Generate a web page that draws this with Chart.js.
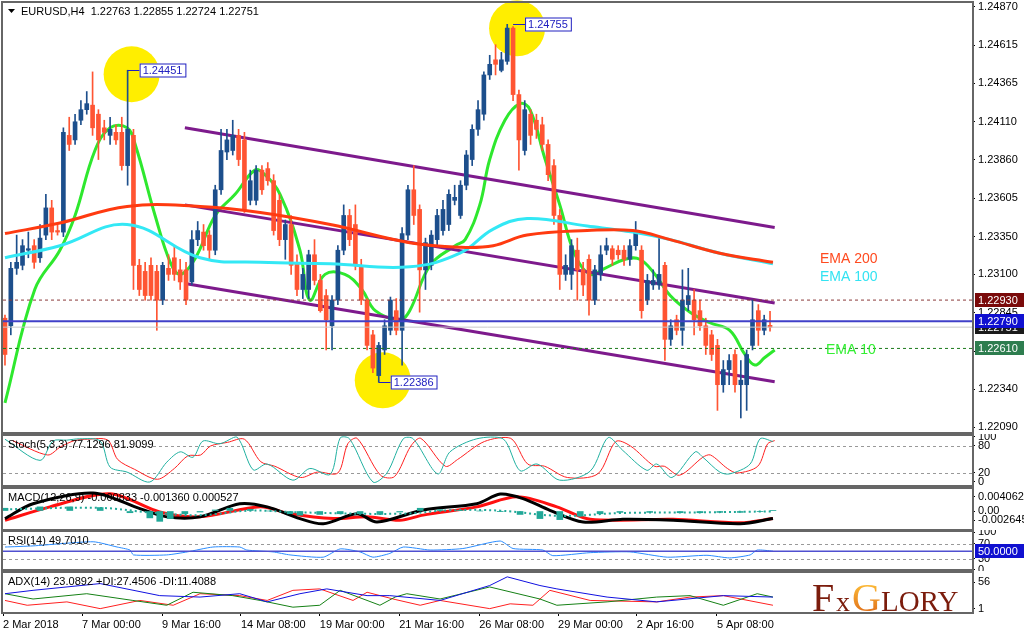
<!DOCTYPE html>
<html>
<head>
<meta charset="utf-8">
<script src="https://cdn.jsdelivr.net/npm/chart.js@4.4.1/dist/chart.umd.min.js"></script>
<style>
  body { margin:0; background:#fff; width:1024px; height:636px; overflow:hidden; position:relative; }
  .pane { position:absolute; left:0; width:1024px; }
</style>
</head>
<body>
<div class="pane" style="top:0;height:434px"><canvas id="main"></canvas></div>
<div class="pane" style="top:434px;height:53px"><canvas id="stoch"></canvas></div>
<div class="pane" style="top:487px;height:43px"><canvas id="macd"></canvas></div>
<div class="pane" style="top:530px;height:41px"><canvas id="rsi"></canvas></div>
<div class="pane" style="top:571px;height:65px"><canvas id="adx"></canvas></div>
<script>
// EURUSD H4 candles
var opens = [1.2281,1.2276,1.2314,1.2316,1.2326,1.2329,1.2321,1.2336,1.2354,1.2339,
  1.2338,1.2402,1.2399,1.2412,1.2419,1.2422,1.2416,1.2407,1.2402,1.2404,
  1.2404,1.2382,1.2402,1.2316,1.2312,1.2316,1.2312,1.2293,1.2314,1.2321,
  1.2313,1.2313,1.2305,1.2333,1.2338,1.2336,1.2326,1.2366,1.2391,1.2392,
  1.2402,1.2399,1.2359,1.2359,1.2379,1.2380,1.2372,1.2359,1.2333,1.2343,
  1.2318,1.2300,1.2300,1.2323,1.2306,1.2296,1.2276,1.2293,1.2326,1.2349,
  1.2343,1.2316,1.2293,1.2270,1.2243,1.2260,1.2273,1.2286,1.2273,1.2336,
  1.2366,1.2353,1.2313,1.2316,1.2333,1.2339,1.2343,1.2359,1.2349,1.2369,
  1.2386,1.2406,1.2416,1.2442,1.2452,1.2445,1.2451,1.2473,1.2429,1.2392,
  1.2416,1.2412,1.2409,1.2396,1.2382,1.2349,1.2310,1.2310,1.2326,1.2313,
  1.2320,1.2293,1.2310,1.2326,1.2327,1.2326,1.2326,1.2320,1.2329,1.2326,
  1.2293,1.2303,1.2303,1.2316,1.2267,1.2280,1.2273,1.2290,1.2293,1.2286,
  1.2276,1.2270,1.2263,1.2237,1.2247,1.2257,1.2237,1.2237,1.2263,1.2286,
  1.2273,1.22763];
var closes = [1.2257,1.2314,1.2318,1.2329,1.2327,1.2318,1.2334,1.2354,1.2338,1.2338,
  1.2404,1.2396,1.2411,1.2419,1.2423,1.2407,1.2399,1.2404,1.2406,1.2399,
  1.2382,1.2406,1.2316,1.2300,1.2296,1.2296,1.2293,1.2316,1.2310,1.2310,
  1.2305,1.2293,1.2333,1.2339,1.2329,1.2326,1.2366,1.2392,1.2399,1.2402,
  1.2386,1.2353,1.2372,1.2379,1.2366,1.2372,1.2339,1.2333,1.2343,1.2316,
  1.2300,1.2310,1.2323,1.2306,1.2286,1.2280,1.2293,1.2326,1.2349,1.2333,
  1.2316,1.2293,1.2263,1.2248,1.2263,1.2276,1.2293,1.2273,1.2337,1.2366,
  1.2349,1.2313,1.2331,1.2336,1.2349,1.2353,1.2363,1.2361,1.2369,1.2389,
  1.2406,1.2419,1.2442,1.2449,1.2449,1.2452,1.2473,1.2429,1.2399,1.2419,
  1.2402,1.2406,1.2396,1.2376,1.2349,1.2310,1.2316,1.2329,1.2313,1.2303,
  1.2293,1.2313,1.2323,1.2329,1.2320,1.2323,1.2320,1.2329,1.2339,1.2286,
  1.2306,1.2306,1.2310,1.2267,1.2276,1.2273,1.2293,1.2296,1.2280,1.2276,
  1.2263,1.2257,1.2237,1.2247,1.2253,1.2237,1.2240,1.2257,1.2280,1.2273,
  1.2280,1.22751];
var highs = [1.2283,1.2318,1.2336,1.2333,1.2338,1.2333,1.2343,1.2363,1.2359,1.2343,
  1.2407,1.2414,1.2416,1.2425,1.2431,1.2444,1.2419,1.2412,1.2414,1.2409,
  1.2414,1.24451,1.2406,1.2320,1.2318,1.2321,1.2316,1.2318,1.2323,1.2329,
  1.2320,1.2318,1.2339,1.2345,1.2343,1.2339,1.2369,1.2406,1.2406,1.2412,
  1.2406,1.2404,1.2379,1.2382,1.2382,1.2384,1.2376,1.2363,1.2346,1.2349,
  1.2323,1.2314,1.2326,1.2333,1.2310,1.2300,1.2296,1.2329,1.2356,1.2353,
  1.2356,1.2320,1.2294,1.2273,1.2265,1.2280,1.2295,1.2294,1.2341,1.2369,
  1.2382,1.2356,1.2334,1.2339,1.2353,1.2359,1.2366,1.2369,1.2372,1.2392,
  1.2409,1.2425,1.2444,1.2455,1.2462,1.2457,1.24755,1.2474,1.2432,1.2425,
  1.2419,1.2416,1.2414,1.2399,1.2386,1.2353,1.2323,1.2333,1.2334,1.2318,
  1.2323,1.2316,1.2329,1.2334,1.2329,1.2329,1.2329,1.2333,1.2345,1.2329,
  1.2310,1.2313,1.2334,1.2318,1.2280,1.2283,1.2313,1.2314,1.2300,1.2293,
  1.2281,1.2273,1.2267,1.2253,1.2257,1.2260,1.2253,1.2260,1.2293,1.2290,
  1.2283,1.22855];
var lows = [1.2250,1.2270,1.2310,1.2313,1.2321,1.2314,1.2318,1.2333,1.2333,1.2336,
  1.2335,1.2392,1.2396,1.2409,1.2416,1.2402,1.2386,1.2399,1.2396,1.2396,
  1.2379,1.2369,1.2300,1.2296,1.2293,1.2293,1.2273,1.2290,1.2306,1.2306,
  1.2300,1.2290,1.2303,1.2329,1.2326,1.2320,1.2323,1.2363,1.2386,1.2389,
  1.2382,1.2351,1.2356,1.2356,1.2363,1.2369,1.2336,1.2329,1.2320,1.2310,
  1.2296,1.2294,1.2294,1.2303,1.2285,1.2260,1.2260,1.2290,1.2323,1.2329,
  1.2313,1.2290,1.2260,1.2245,1.22386,1.2257,1.2270,1.2270,1.2250,1.2333,
  1.2343,1.2285,1.2300,1.2313,1.2329,1.2336,1.2339,1.2356,1.2347,1.2366,
  1.2382,1.2402,1.2412,1.2439,1.2442,1.2444,1.2449,1.2425,1.2379,1.2389,
  1.2396,1.2400,1.2392,1.2372,1.2343,1.2300,1.2306,1.2300,1.2293,1.2296,
  1.2283,1.2290,1.2306,1.2323,1.2316,1.2320,1.2316,1.2316,1.2326,1.2281,
  1.2290,1.2300,1.2300,1.2253,1.2263,1.2270,1.2263,1.2286,1.2270,1.2273,
  1.2257,1.2253,1.2220,1.2232,1.2237,1.2232,1.2215,1.2220,1.2260,1.2263,
  1.2270,1.22724];

// moving averages, read at bar positions
var ema10X = [0,5.1,9.4,12,15.4,18,20.9,22.3,25.7,28.3,30,32.5,36,39.4,42.8,44.5,47.1,50.5,52.2,54.8,58.2,61.1,63.4,67.6,69.3,72.8,77.1,78.8,81.3,83,85.6,88.2,89.9,92.5,95,97.6,100.2,102.7,106.2,108.7,111.3,113.9,117.3,120.7,124.1,126.7,128.4,130.1,131.8];
var ema10 = [1.2225,1.2300,1.2326,1.2349,1.2392,1.2407,1.2407,1.2396,1.2349,1.2318,1.2310,1.2320,1.2349,1.2363,1.2379,1.2376,1.2363,1.2326,1.2293,1.2310,1.2310,1.2300,1.2286,1.2280,1.2286,1.2316,1.2329,1.2333,1.2356,1.2386,1.2412,1.2423,1.2419,1.2386,1.2356,1.2323,1.2310,1.2314,1.2320,1.2320,1.2310,1.2296,1.2285,1.2278,1.2273,1.2257,1.2250,1.2255,1.2260];
var emaLongX = [0,9.4,20.9,33.4,43.7,55.7,69.3,77.9,83.6,89.4,99.7,107.5,113.9,122.4,131.5];
var ema100 = [1.2321,1.2329,1.2343,1.2321,1.2318,1.2317,1.2315,1.2324,1.2340,1.2347,1.2342,1.2338,1.2333,1.2324,1.2317];
var ema200 = [1.2337,1.2344,1.2355,1.2355,1.2351,1.2343,1.2331,1.2328,1.2329,1.2336,1.2339,1.2339,1.2333,1.2324,1.2318];

// regression channel
var chanX = [30.8,131.8];
var chanUp = [1.2407,1.2341];
var chanMid = [1.2356,1.2291];
var chanLow = [1.2304,1.2239];

var priceTicks = [1.24870,1.24615,1.24365,1.24110,1.23860,1.23605,1.23350,1.23100,1.22845,1.22590,1.22340,1.22090];
var levels = { resist:1.22930, line:1.22790, bid:1.22751, support:1.22610 };

// indicators
var stochKX = [0,6,8.2,10.6,12.8,16.3,18,20.9,24.8,27.7,30,32.2,33.9,36.8,39.7,42.5,44.9,49.3,52.2,55.7,57.4,59,63,65.4,68.2,69.9,74.1,76.2,80.8,85.3,88.2,91.1,95,100.2,103.3,105.8,109.9,111.6,114.2,118.2,119.5,122.4,124.1,127.6,129.3,131.5];
var stochK = [95,48,91,93,96,91,33,22,0,44,67,55,91,85,100,27,40,4,30,17,98,96,0,20,96,96,18,67,96,96,25,40,4,24,99,70,26,40,10,67,55,22,18,40,96,90];
var stochDX = [1.3,7.3,9.5,11.9,14.1,17.6,19.3,22.2,26.1,29,31.3,33.5,35.2,38.1,41,43.8,46.2,50.6,53.5,57,58.7,60.3,64.3,66.7,69.5,71.2,75.4,77.5,82.1,86.6,89.5,92.4,96.3,101.5,104.6,107.1,111.2,112.9,115.5,119.5,120.8,123.7,125.4,128.9,130.6,131.8];
var stochD = [92,60,78,92,95,93,50,28,6,30,58,60,80,88,95,45,35,10,22,20,85,97,15,12,80,97,35,50,90,97,40,35,10,18,90,80,35,35,15,55,60,30,20,35,85,92];

var histX = [0,6,11.1,16.3,21.4,24.8,26.5,28.3,30.8,33.4,36,38.5,42,45.4,48.8,50.5,53.9,57.4,60.8,64.2,67.6,71.1,74.5,77.9,81.3,84.8,88.2,91.6,95,98.5,101.9,105.3,110.4,115.6,119,122.4,125.9,129.3,131.5];
var histVal = [0.0008,0.0012,0.0012,0.0010,-0.0005,-0.0020,-0.0030,-0.0022,-0.0008,-0.0003,0.0003,0.0008,0.0005,0,-0.0008,-0.0012,-0.0010,-0.0008,-0.0008,-0.0010,-0.0003,0.0008,0.0004,0.0002,0,-0.0002,-0.0010,-0.0022,-0.0025,-0.0015,-0.0008,-0.0004,-0.0004,-0.0005,-0.0005,-0.0004,-0.0004,-0.0001,0.0001];
var sigX = [0,16.3,24.8,33.4,42,50.5,67.6,76.2,84.8,95,105.3,119,131.5];
var sigVal = [0.0005,0.0009,-0.0004,-0.0012,0.0001,-0.0004,-0.0008,0.0002,0.0001,-0.0014,-0.0006,-0.0004,-0.0001];
var macdBlackX = [0,4.8,15.1,23.1,27.7,33.4,40.2,44.9,50.5,54.5,60.3,63.7,71.6,80.8,84.8,88.7,93.3,99,105.8,114.4,125.9,131.5];
var macdBlack = [-0.0022,0.0021,0.0052,0.0007,-0.0017,-0.0017,0.0021,0.0012,-0.0022,-0.0037,-0.0008,-0.0032,0.0003,0.0021,0.0049,0.0036,0.0002,-0.0032,-0.0024,-0.0027,-0.0037,-0.0022];
var macdRedX = [0,7.7,18,26.5,33.4,43.7,48.8,56.2,62,67.6,71.6,80.8,87.7,94.5,100.2,114.4,125.9,131.5];
var macdRed = [-0.0027,0.0012,0.0050,-0.0003,-0.0017,0.0012,-0.0008,-0.0022,-0.0017,-0.0027,-0.0012,0.0012,0.0041,0.0012,-0.0024,-0.0024,-0.0034,-0.0022];

var rsiX = [0,4.8,15.1,19.2,21.4,22,27.7,31.2,35.6,40.2,41.4,45.9,48.8,54.5,57.4,60.8,63,65.9,68.2,72.8,78.4,84.8,87,92.1,93.8,100.2,107,113.4,120.2,124.1,127.6,128.8,131.5];
var rsi = [61,64,75,61,53,40,40,48,61,61,53,48,40,34,56,48,34,44,61,53,57,77,57,53,38,46,48,34,39,32,40,53,50];

var adxX = [0,4.8,16.3,26.5,33.4,40.2,44.9,50.5,55.1,62,65.9,74.5,83,86,91.6,94.5,103.1,111.6,123,131.5];
var adx = [32,39,53,28,25,32,15,32,42,28,28,18,49,67,49,42,25,15,28,25];
var plusDiX = [0,4.8,14,21.9,27.7,32.2,39,43.7,49.3,53.9,57.4,64.2,66.8,68.8,74.5,83,91.6,94.5,103.1,111.6,117.3,123,128.8,131.5];
var plusDi = [32,21,32,18,8,35,28,18,4,8,39,8,25,32,21,46,21,8,15,25,28,8,32,25];
var minusDiX = [0,3.8,10.6,16.3,23.1,28.8,33.4,40.2,44.9,49.3,53.9,59.6,62,66.8,71.1,74.5,83,86.5,90.4,93.3,100.2,111.6,117.3,123,131.5];
var minusDi = [18,8,15,1,18,8,32,28,18,39,42,18,35,20,8,18,1,11,8,39,18,15,25,28,8];

var timeTickX = [-0.34,13.2,26.9,40.4,53.9,67.5,81.2,94.7,108.2,121.9];
var timeLabels = ['2 Mar 2018','7 Mar 00:00','9 Mar 16:00','14 Mar 08:00','19 Mar 00:00','21 Mar 16:00','26 Mar 08:00','29 Mar 00:00','2 Apr 16:00','5 Apr 08:00'];

var X_MIN = -0.34, X_MAX = X_MIN + 969 / 5.84;
var FONT = '"Liberation Sans", Arial, sans-serif';
Chart.defaults.font.family = FONT;
Chart.defaults.font.size = 11;
Chart.defaults.color = '#000';
Chart.defaults.animation = false;

function pts(xs, ys) { return xs.map(function(x, i){ return {x:x, y:ys[i]}; }); }
function flat(v) { return [{x:X_MIN, y:v}, {x:X_MAX, y:v}]; }
function line(data, color, w, extra) {
  return Object.assign({type:'line', data:data, borderColor:color, borderWidth:w, pointRadius:0, fill:false, tension:0}, extra || {});
}
function xScale(show) {
  var s = {type:'linear', min:X_MIN, max:X_MAX, display:show, offset:false};
  if (!show) return s;
  return Object.assign(s, {
    afterBuildTicks: function(sc){ sc.ticks = timeTickX.map(function(v){ return {value:v}; }); },
    ticks:{autoSkip:false, maxRotation:0, align:'start', padding:2, font:{size:11},
      callback:function(v, i){ return timeLabels[i]; }},
    grid:{drawOnChartArea:false, drawTicks:true, tickLength:4, color:'#000'},
    border:{color:'#555', width:1},
    afterFit: function(sc){ sc.height = 24; }});
}
function yScale(min, max, tickVals, fmt) {
  return {position:'right', min:min, max:max,
    afterBuildTicks: function(s){ s.ticks = tickVals.map(function(v){ return {value:v}; }); },
    afterFit: function(s){ s.width = 52; s.paddingTop = 0; s.paddingBottom = 0; },
    ticks:{autoSkip:false, padding:3, font:{size:11}, callback: fmt},
    grid:{drawOnChartArea:false, drawTicks:true, tickLength:3, color:'#000'},
    border:{color:'#555', width:1}};
}
function frame(label) {
  return {id:'frame', afterDraw:function(c){
    var a = c.chartArea, g = c.ctx;
    g.save();
    g.strokeStyle = '#666'; g.lineWidth = 2;
    g.strokeRect(a.left - 1, a.top - 1, a.right - a.left + 2, a.bottom - a.top + 2);
    if (label) {
      g.fillStyle = '#000'; g.font = '11px ' + FONT; g.textBaseline = 'top';
      g.fillText(label, a.left + 5, a.top + 3);
    }
    g.restore();
  }};
}
function dashedLevels(vals) {
  return {id:'lev', beforeDatasetsDraw:function(c){
    var a = c.chartArea, g = c.ctx, y = c.scales.y;
    g.save(); g.strokeStyle = '#999'; g.setLineDash([3,3]); g.lineWidth = 1;
    vals.forEach(function(v){ var p = Math.round(y.getPixelForValue(v)) + 0.5;
      g.beginPath(); g.moveTo(a.left, p); g.lineTo(a.right, p); g.stroke(); });
    g.restore();
  }};
}
function baseOpts(pad, xs, ys) {
  return {responsive:true, maintainAspectRatio:false,
    layout:{padding:pad},
    plugins:{legend:{display:false}, tooltip:{enabled:false}},
    scales:{x:xs, y:ys}};
}

// ---- main price chart ----
var idx = opens.map(function(_, i){ return i; });
var up = '#1d4f8c', down = '#ff5533';
var candleCol = idx.map(function(i){ return closes[i] >= opens[i] ? up : down; });

var mainDecor = {
  id:'mainDecor',
  beforeDatasetsDraw:function(c){
    var g = c.ctx, x = c.scales.x, y = c.scales.y;
    g.save(); g.fillStyle = '#ffee00';
    [[21, 1.24451], [87, 1.24755], [64, 1.22386]].forEach(function(m, k){
      var cx = x.getPixelForValue(m[0]) + 4, cy = y.getPixelForValue(m[1]) + (k == 2 ? -2 : 4);
      g.beginPath(); g.arc(cx, cy, 28, 0, Math.PI * 2); g.fill();
    });
    g.restore();
  },
  afterDatasetsDraw:function(c){
    var g = c.ctx, x = c.scales.x, y = c.scales.y, a = c.chartArea;
    g.save();
    // swing labels
    [[21, 1.24451], [87, 1.24755], [64, 1.22386]].forEach(function(m){
      var px = x.getPixelForValue(m[0]), py = Math.round(y.getPixelForValue(m[1])) + 0.5;
      var t = m[1].toFixed(5);
      g.font = '11px ' + FONT;
      var w = g.measureText(t).width + 6;
      g.strokeStyle = '#2020c0'; g.lineWidth = 1;
      g.beginPath(); g.moveTo(px, py); g.lineTo(px + 12, py); g.stroke();
      g.fillStyle = '#fff'; g.fillRect(px + 12, py - 7, w, 14);
      g.strokeRect(px + 12.5, py - 6.5, w, 13);
      g.fillStyle = '#2020c0'; g.textBaseline = 'middle'; g.fillText(t, px + 15, py + 0.5);
    });
    // EMA captions
    g.font = '14px ' + FONT; g.textBaseline = 'alphabetic';
    g.fillStyle = '#ff4a1f'; g.fillText('EMA 200', 820, 263);
    g.fillStyle = '#33e3f2'; g.fillText('EMA 100', 820, 281);
    g.fillStyle = '#33ee33'; g.fillText('EMA 10', 826, 354);
    // title
    g.fillStyle = '#000'; g.font = '11px ' + FONT;
    g.beginPath(); g.moveTo(8, 9); g.lineTo(15, 9); g.lineTo(11.5, 13); g.closePath(); g.fill();
    g.fillText('EURUSD,H4  1.22763 1.22855 1.22724 1.22751', 21, 15);
    // price boxes on the axis
    [[levels.bid, '#1a1a1a'], [levels.resist, '#7a0a0a'], [levels.line, '#1010d0'], [levels.support, '#2e7d4f']].forEach(function(b){
      var py = Math.round(y.getPixelForValue(b[0]));
      g.fillStyle = b[1]; g.fillRect(a.right + 3, py - 7, 49, 14);
      g.fillStyle = '#fff'; g.textBaseline = 'middle'; g.font = '11px ' + FONT;
      g.fillText(b[0].toFixed(5), a.right + 6, py + 0.5);
    });
    g.restore();
  }
};

var mainData = {datasets:[
  line(flat(levels.bid), '#c8c8c8', 1),
  line(flat(levels.resist), '#8b3a3a', 1, {borderDash:[3,3]}),
  line(flat(levels.line), '#4040c8', 2),
  line(flat(levels.support), '#1a7a1a', 1, {borderDash:[3,3]}),
  line(pts(emaLongX, ema200), '#ff3a10', 3, {tension:0.4}),
  line(pts(emaLongX, ema100), '#33e8f5', 3, {tension:0.4}),
  {type:'bar', data:idx.map(function(i){ return {x:i, y:[lows[i], highs[i]]}; }),
    backgroundColor:candleCol, barThickness:1, grouped:false},
  {type:'bar', data:idx.map(function(i){ return {x:i, y:[opens[i], closes[i]]}; }),
    backgroundColor:candleCol, barThickness:4, minBarLength:1, grouped:false},
  line(pts(chanX, chanUp), '#7d1a8c', 3),
  line(pts(chanX, chanMid), '#7d1a8c', 3),
  line(pts(chanX, chanLow), '#7d1a8c', 3),
  line(pts(ema10X, ema10), '#2ee82e', 3, {tension:0.4})
]};
new Chart(document.getElementById('main'), {type:'bar', data:mainData,
  options: baseOpts({left:3, top:3, bottom:2, right:0}, xScale(false),
    yScale(1.22057, 1.24896, priceTicks, function(v){ return v.toFixed(5); })),
  plugins:[mainDecor, frame(null)]});

// ---- stochastic ----
new Chart(document.getElementById('stoch'), {type:'line',
  data:{datasets:[
    line(pts(stochKX, stochK), '#20b0a0', 1, {tension:0.3}),
    line(pts(stochDX, stochD), '#ff2020', 1, {tension:0.3})]},
  options: baseOpts({left:3, top:2, bottom:2, right:0}, xScale(false),
    yScale(-6.7, 102.2, [100, 80, 20, 0], function(v){ return String(v); })),
  plugins:[dashedLevels([80, 20]), frame('Stoch(5,3,3) 77.1296 81.9099')]});

// ---- MACD ----
new Chart(document.getElementById('macd'), {type:'bar',
  data:{datasets:[
    {type:'bar', data:histX.map(function(x, i){ return {x:x, y:[0, histVal[i]]}; }),
      backgroundColor:'#20a898', barThickness:6, grouped:false},
    line(pts(sigX, sigVal), '#20a898', 2, {borderDash:[2,3], tension:0.4}),
    line(pts(macdBlackX, macdBlack), '#000', 3, {tension:0.3}),
    line(pts(macdRedX, macdRed), '#ff1010', 3, {tension:0.3})]},
  options: baseOpts({left:3, top:2, bottom:1, right:0}, xScale(false),
    yScale(-0.00522, 0.00638, [0.004062, 0, -0.002645], function(v){ return v === 0 ? '0.00' : v.toFixed(6); })),
  plugins:[frame('MACD(12,26,9) -0.000833 -0.001360 0.000527')]});

// ---- RSI ----
var rsiBox = {id:'rsiBox', afterDraw:function(c){
  var g = c.ctx, a = c.chartArea, py = Math.round(c.scales.y.getPixelForValue(50));
  g.save(); g.fillStyle = '#1010d0'; g.fillRect(a.right + 3, py - 7, 49, 14);
  g.fillStyle = '#fff'; g.font = '11px ' + FONT; g.textBaseline = 'middle';
  g.fillText('50.0000', a.right + 6, py + 0.5); g.restore();
}};
new Chart(document.getElementById('rsi'), {type:'line',
  data:{datasets:[
    line(flat(50), '#5050d0', 1.5),
    line(pts(rsiX, rsi), '#2a8cff', 1, {tension:0.2})]},
  options: baseOpts({left:3, top:2, bottom:2, right:0}, xScale(false),
    yScale(2.5, 101, [100, 70, 30, 0], function(v){ return String(v); })),
  plugins:[dashedLevels([70, 30]), frame('RSI(14) 49.7010'), rsiBox]});

// ---- ADX ----
var logo = {id:'logo', afterDraw:function(c){
  var g = c.ctx;
  g.save(); g.textBaseline = 'alphabetic';
  g.fillStyle = '#7b1c0c'; g.font = '40px "Liberation Serif", serif';
  g.fillText('F', 812, 40);
  g.font = '28px "Liberation Serif", serif'; g.fillText('x', 836, 40);
  var gr = g.createLinearGradient(0, 10, 0, 42);
  gr.addColorStop(0, '#ffc23a'); gr.addColorStop(1, '#e0701a');
  g.fillStyle = gr; g.font = '40px "Liberation Serif", serif'; g.fillText('G', 852, 40);
  g.fillStyle = '#7b1c0c'; g.font = '29px "Liberation Serif", serif'; g.fillText('LORY', 881, 40);
  g.restore();
}};
new Chart(document.getElementById('adx'), {type:'line',
  data:{datasets:[
    line(pts(adxX, adx), '#1010e0', 1),
    line(pts(plusDiX, plusDi), '#158015', 1),
    line(pts(minusDiX, minusDi), '#ff2020', 1)]},
  options: baseOpts({left:3, top:2, bottom:0, right:0}, xScale(true),
    yScale(-6, 75, [56, 1], function(v){ return String(v); })),
  plugins:[frame('ADX(14) 23.0892 +DI:27.4506 -DI:11.4088'), logo]});
</script>
</body>
</html>
